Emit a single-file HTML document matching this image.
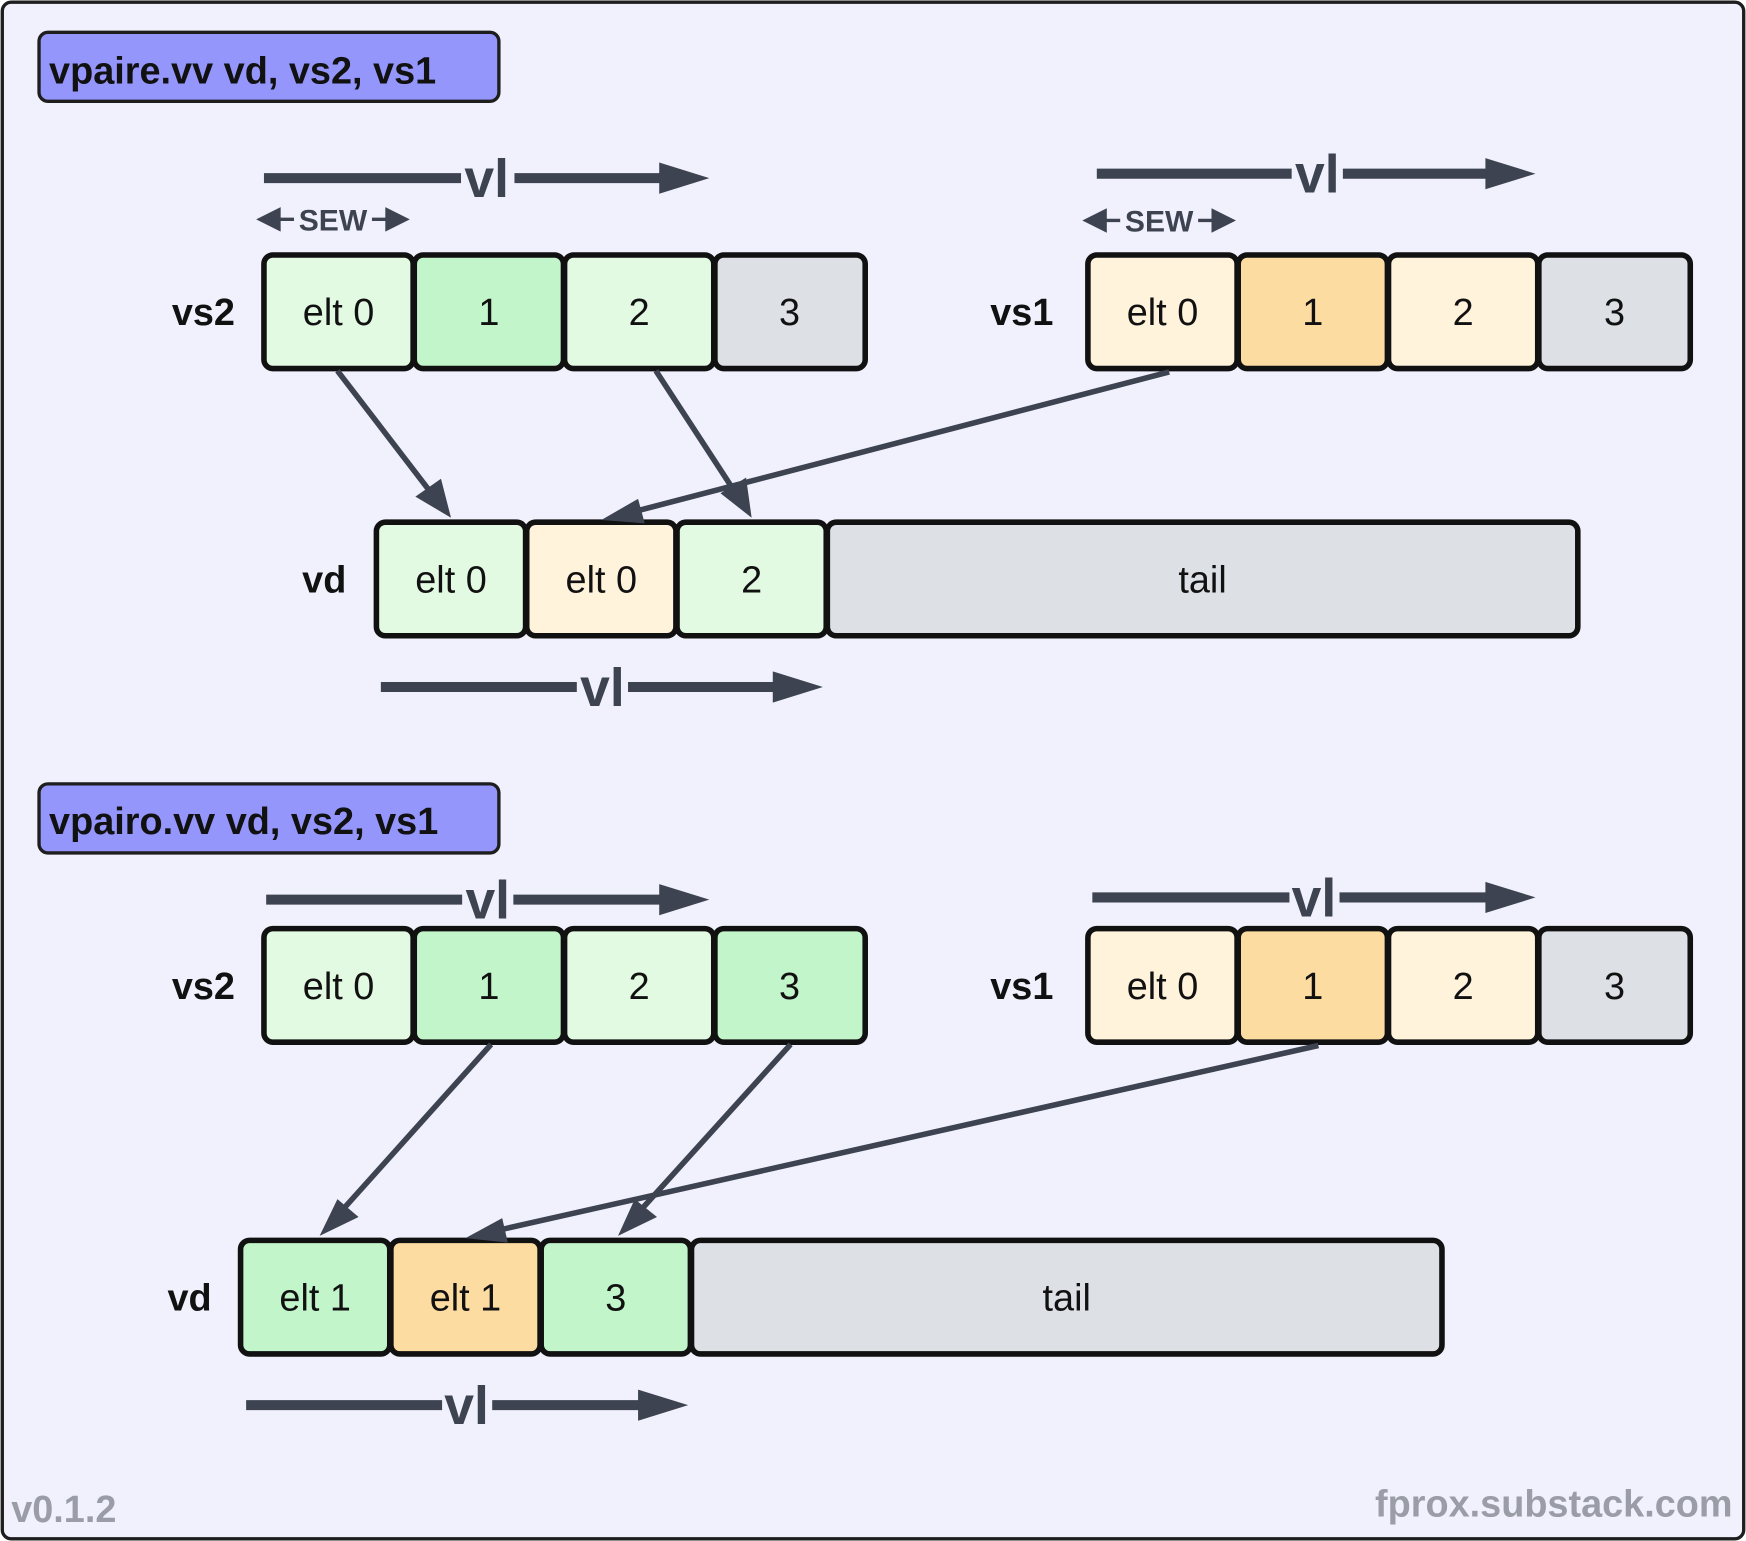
<!DOCTYPE html>
<html><head><meta charset="utf-8"><style>
html,body{margin:0;padding:0;background:#fff;}
svg{display:block;}
text{font-family:"Liberation Sans","DejaVu Sans",sans-serif;}
</style></head><body>
<svg width="1746" height="1541" viewBox="0 0 1568 1384" xmlns="http://www.w3.org/2000/svg">
<defs>
<marker id="ah" markerWidth="10" markerHeight="10" refX="9" refY="5" orient="auto" markerUnits="userSpaceOnUse" viewBox="0 0 10 10">
</marker>
</defs>
<rect x="2" y="2" width="1564" height="1380" rx="8" fill="#f0f1fc" stroke="#1e1e1e" stroke-width="3"/>

<!-- title 1 -->
<rect x="35" y="29" width="413" height="62" rx="8" fill="#9496fb" stroke="#1e1e1e" stroke-width="3"/>
<text x="44" y="75" font-size="34" font-weight="bold" fill="#111">vpaire.vv vd, vs2, vs1</text>

<g fill="#3d4350" stroke="#3d4350">
<!-- vl arrows -->
<g id="vl1">
<line x1="237" y1="160" x2="414" y2="160" stroke-width="9"/>
<line x1="462" y1="160" x2="600" y2="160" stroke-width="9"/>
<polygon points="592,146 637,160 592,174" stroke="none"/>
</g>
<line x1="985" y1="156" x2="1160" y2="156" stroke-width="9"/>
<line x1="1206" y1="156" x2="1340" y2="156" stroke-width="9"/>
<polygon points="1334,142 1379,156 1334,170" stroke="none"/>
<line x1="342" y1="617" x2="518" y2="617" stroke-width="9"/>
<line x1="564" y1="617" x2="700" y2="617" stroke-width="9"/>
<polygon points="694,603 739,617 694,631" stroke="none"/>

<line x1="239" y1="808" x2="415" y2="808" stroke-width="9"/>
<line x1="461" y1="808" x2="600" y2="808" stroke-width="9"/>
<polygon points="592,794 637,808 592,822" stroke="none"/>
<line x1="981" y1="806" x2="1158" y2="806" stroke-width="9"/>
<line x1="1203" y1="806" x2="1340" y2="806" stroke-width="9"/>
<polygon points="1334,792 1379,806 1334,820" stroke="none"/>
<line x1="221" y1="1262" x2="397" y2="1262" stroke-width="9"/>
<line x1="442" y1="1262" x2="580" y2="1262" stroke-width="9"/>
<polygon points="573,1248 618,1262 573,1276" stroke="none"/>

<!-- SEW -->
<line x1="248" y1="197" x2="264" y2="197" stroke-width="3"/>
<polygon points="230,197 252,186 252,208" stroke="none"/>
<line x1="334" y1="197" x2="350" y2="197" stroke-width="3"/>
<polygon points="368,197 346,186 346,208" stroke="none"/>
<line x1="990" y1="198" x2="1006" y2="198" stroke-width="3"/>
<polygon points="972,198 994,187 994,209" stroke="none"/>
<line x1="1076" y1="198" x2="1092" y2="198" stroke-width="3"/>
<polygon points="1110,198 1088,187 1088,209" stroke="none"/>
</g>
<g font-weight="bold" fill="#3d4350">
<text x="437" y="177" font-size="48" text-anchor="middle">vl</text>
<text x="1183" y="173" font-size="48" text-anchor="middle">vl</text>
<text x="541" y="634" font-size="48" text-anchor="middle">vl</text>
<text x="438" y="825" font-size="48" text-anchor="middle">vl</text>
<text x="1180" y="823" font-size="48" text-anchor="middle">vl</text>
<text x="419" y="1279" font-size="48" text-anchor="middle">vl</text>
<text x="299" y="207" font-size="27" text-anchor="middle">SEW</text>
<text x="1041" y="208" font-size="27" text-anchor="middle">SEW</text>
</g>

<!-- cells -->
<g stroke="#111" stroke-width="5" font-size="34">
<rect x="237" y="229" width="134" height="102" rx="8" fill="#e2f9e2"/>
<rect x="372" y="229" width="134" height="102" rx="8" fill="#c2f5ca"/>
<rect x="507" y="229" width="134" height="102" rx="8" fill="#e2f9e2"/>
<rect x="642" y="229" width="135" height="102" rx="8" fill="#dde1e6"/>
<rect x="977" y="229" width="134" height="102" rx="8" fill="#fff3dc"/>
<rect x="1112" y="229" width="134" height="102" rx="8" fill="#fddca2"/>
<rect x="1247" y="229" width="134" height="102" rx="8" fill="#fff3dc"/>
<rect x="1382" y="229" width="136" height="102" rx="8" fill="#dde1e6"/>

<rect x="338" y="469" width="134" height="102" rx="8" fill="#e2f9e2"/>
<rect x="473" y="469" width="134" height="102" rx="8" fill="#fff3dc"/>
<rect x="608" y="469" width="134" height="102" rx="8" fill="#e2f9e2"/>
<rect x="743" y="469" width="674" height="102" rx="8" fill="#dde1e6"/>

<rect x="237" y="834" width="134" height="102" rx="8" fill="#e2f9e2"/>
<rect x="372" y="834" width="134" height="102" rx="8" fill="#c2f5ca"/>
<rect x="507" y="834" width="134" height="102" rx="8" fill="#e2f9e2"/>
<rect x="642" y="834" width="135" height="102" rx="8" fill="#c2f5ca"/>
<rect x="977" y="834" width="134" height="102" rx="8" fill="#fff3dc"/>
<rect x="1112" y="834" width="134" height="102" rx="8" fill="#fddca2"/>
<rect x="1247" y="834" width="134" height="102" rx="8" fill="#fff3dc"/>
<rect x="1382" y="834" width="136" height="102" rx="8" fill="#dde1e6"/>

<rect x="216" y="1114" width="134" height="102" rx="8" fill="#c2f5ca"/>
<rect x="351" y="1114" width="134" height="102" rx="8" fill="#fddca2"/>
<rect x="486" y="1114" width="134" height="102" rx="8" fill="#c2f5ca"/>
<rect x="621" y="1114" width="674" height="102" rx="8" fill="#dde1e6"/>
</g>
<g font-size="34" fill="#111" text-anchor="middle">
<text x="304" y="292">elt 0</text><text x="439" y="292">1</text><text x="574" y="292">2</text><text x="709" y="292">3</text>
<text x="1044" y="292">elt 0</text><text x="1179" y="292">1</text><text x="1314" y="292">2</text><text x="1450" y="292">3</text>
<text x="405" y="532">elt 0</text><text x="540" y="532">elt 0</text><text x="675" y="532">2</text><text x="1080" y="532">tail</text>
<text x="304" y="897">elt 0</text><text x="439" y="897">1</text><text x="574" y="897">2</text><text x="709" y="897">3</text>
<text x="1044" y="897">elt 0</text><text x="1179" y="897">1</text><text x="1314" y="897">2</text><text x="1450" y="897">3</text>
<text x="283" y="1177">elt 1</text><text x="418" y="1177">elt 1</text><text x="553" y="1177">3</text><text x="958" y="1177">tail</text>
</g>
<g font-size="34" font-weight="bold" fill="#111" text-anchor="end">
<text x="211" y="292">vs2</text><text x="946" y="292">vs1</text><text x="311" y="532">vd</text>
<text x="211" y="897">vs2</text><text x="946" y="897">vs1</text><text x="190" y="1177">vd</text>
</g>

<!-- connectors -->
<g stroke="#3d4350" stroke-width="5" fill="#3d4350">
<line x1="303" y1="333" x2="392" y2="449"/>
<polygon points="405,465 373,446 396,430" stroke="none"/>
<line x1="589" y1="333" x2="664" y2="448"/>
<polygon points="675,465 647,443 670,429" stroke="none"/>
<line x1="1050" y1="334" x2="560" y2="462"/>
<polygon points="540,467 573,448 579,470" stroke="none"/>

<line x1="441" y1="938" x2="300" y2="1095"/>
<polygon points="287,1110 303,1077 322,1093" stroke="none"/>
<line x1="710" y1="938" x2="568" y2="1095"/>
<polygon points="555,1110 570,1077 590,1093" stroke="none"/>
<line x1="1184" y1="939" x2="438" y2="1107"/>
<polygon points="418,1112 451,1094 456,1116" stroke="none"/>
</g>

<!-- title 2 -->
<rect x="35" y="704" width="413" height="62" rx="8" fill="#9496fb" stroke="#1e1e1e" stroke-width="3"/>
<text x="44" y="749" font-size="34" font-weight="bold" fill="#111">vpairo.vv vd, vs2, vs1</text>

<text x="10" y="1367" font-size="34" font-weight="bold" fill="#9a9ca6">v0.1.2</text>
<text x="1556" y="1362" font-size="34" font-weight="bold" fill="#9a9ca6" text-anchor="end">fprox.substack.com</text>
</svg>
</body></html>
